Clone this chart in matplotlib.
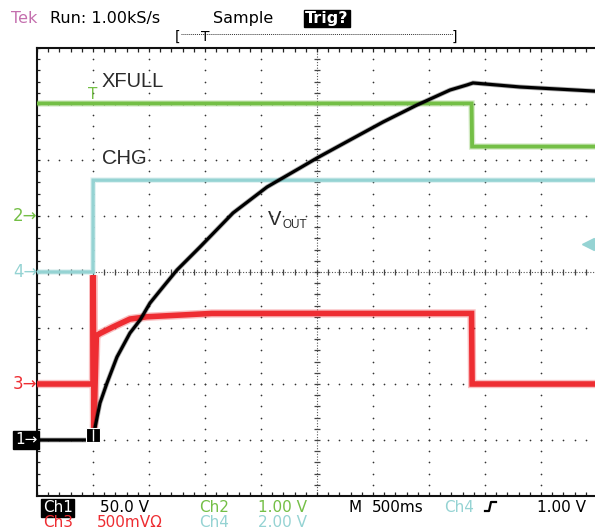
import numpy as np
import matplotlib.pyplot as plt
from matplotlib.lines import Line2D
from matplotlib.transforms import blended_transform_factory

W, H = 595, 531

# channel settings: volts per division, ground marker position (divisions from bottom)
ch1_scale, ch1_gnd = 50.0, 1.0
ch2_scale, ch2_gnd = 1.0, 5.0
ch3_scale, ch3_gnd = 0.5, 2.0
ch4_scale, ch4_gnd = 2.0, 4.0

# Ch1 - VOUT (V)
vout_t = [-0.5, 0.0, 0.01, 0.0625, 0.125, 0.214, 0.33, 0.42, 0.509, 0.625, 0.75,
          0.955, 1.25, 1.554, 1.848, 2.0, 2.295, 2.589, 2.893, 3.188, 3.339,
          3.393, 3.813, 4.464, 4.5]
vout_v = [0.0, 0.0, 7.1, 33.0, 50.9, 74.1, 95.5, 107.1, 122.3, 136.6, 151.8,
          172.3, 202.7, 225.9, 242.9, 251.8, 267.9, 283.9, 299.1, 312.5, 317.0,
          318.8, 315.2, 311.6, 311.4]

# Ch2 - XFULL (V)
xfull_t = [-0.5, 3.38, 3.385, 4.5]
xfull_v = [2.01, 2.01, 1.24, 1.24]

# Ch4 - CHG (V)
chg_t = [-0.5, 0.0, 0.001, 4.5]
chg_v = [0.0, 0.0, 3.28, 3.28]

# Ch3 - charge current (A)
ich_t = [-0.5, 0.0, 0.002, 0.009, 0.03, 0.06, 0.18, 0.33, 0.48, 0.77, 1.06, 3.38, 3.385, 4.5]
ich_v = [0.0, 0.0, 0.97, -0.39, 0.43, 0.45, 0.51, 0.58, 0.60, 0.615, 0.63, 0.63, 0.0, 0.0]

GREEN = '#74bf46'
CYAN = '#95d3d3'
RED = '#ee2d32'
PINK = '#c46fae'
LABEL = '#2b2b2b'
FONT = 'DejaVu Sans'


def fx(x):
    return x / W


def fy(y):
    return 1 - y / H


fig = plt.figure(figsize=(W / 100, H / 100), dpi=100)
ax = fig.add_axes([fx(37), fy(496), 558 / W, 448 / H])
ax.set_xlim(-0.5, -0.5 + 558 / 112)
ax.set_ylim(0, 8)
ax.set_xticks([])
ax.set_yticks([])
for s in ['top', 'left', 'bottom']:
    ax.spines[s].set_linewidth(1.5)
    ax.spines[s].set_color('#111111')
ax.spines['right'].set_visible(False)

# graticule: dotted grid (dots every 1/5 division)
t_major = [-0.5 + 0.5 * i for i in range(1, 10) if i != 5]
y_major = [j for j in range(1, 8) if j != 4]
t_minor = np.arange(-0.5, 4.55, 0.1)
y_minor = np.arange(0, 8.01, 0.2)
gx, gy = [], []
for t in t_major:
    gx += [t] * len(y_minor)
    gy += list(y_minor)
for y in y_major:
    gx += list(t_minor)
    gy += [y] * len(t_minor)
ax.scatter(gx, gy, s=1.5, color='#333333', linewidths=0, zorder=1)

# center axes with ticks
ax.axhline(4, color='#555555', lw=0.8, ls=(0, (1, 1.5)), zorder=1)
ax.axvline(2.0, color='#555555', lw=0.8, ls=(0, (1, 1.5)), zorder=1)
ax.plot(t_minor, [4] * len(t_minor), ls='none', marker='|', ms=5, mew=0.9, color='#444444', zorder=1)
ax.plot([2.0] * len(y_minor), y_minor, ls='none', marker='_', ms=5, mew=0.9, color='#444444', zorder=1)

# frame edge ticks
ax.plot(t_minor, [8] * len(t_minor), ls='none', marker='|', ms=6, mew=0.9, color='#222222', zorder=1)
ax.plot(t_minor, [0] * len(t_minor), ls='none', marker='|', ms=6, mew=0.9, color='#222222', zorder=1)
ax.plot([-0.5] * len(y_minor), y_minor, ls='none', marker='_', ms=5, mew=0.9, color='#222222', zorder=1)


def trace(t, v, scale, gnd, color, lw, halo, z):
    d = [gnd + x / scale for x in v]
    ax.plot(t, d, color=color, lw=lw + halo, alpha=0.3, solid_joinstyle='miter', zorder=z)
    ax.plot(t, d, color=color, lw=lw, solid_joinstyle='miter', zorder=z)


trace(chg_t, chg_v, ch4_scale, ch4_gnd, CYAN, 2.4, 1.6, 3)
trace(xfull_t, xfull_v, ch2_scale, ch2_gnd, GREEN, 2.8, 1.8, 4)
trace(ich_t, ich_v, ch3_scale, ch3_gnd, RED, 4.0, 2.0, 5)
trace(vout_t, vout_v, ch1_scale, ch1_gnd, 'black', 2.3, 1.2, 6)

# trigger markers
ax.text(0.0, ch2_gnd + xfull_v[0] / ch2_scale + 0.02, 'T', color=GREEN, fontsize=11,
        ha='center', va='bottom', family=FONT, zorder=7)
ax.plot(-0.004, ch1_gnd + 0.09, marker='s', ms=9.5, mfc='black', mec='white', mew=0.8, zorder=8)
ax.plot(-0.004, ch1_gnd + 0.09, marker='|', ms=8, mew=1.0, color='white', zorder=9)

trans = blended_transform_factory(ax.transAxes, ax.transData)
ax.plot(0.988, ch4_gnd + 1.0 / ch4_scale, marker='<', ms=8, color=CYAN, mec=CYAN,
        transform=trans, clip_on=False, zorder=7)

# ground markers at the left
gx0 = (13 - 37) / 558
ax.text(gx0, ch2_gnd, '2\u2192', color=GREEN, fontsize=12, ha='left', va='center', transform=trans, family=FONT)
ax.text(gx0, ch4_gnd, '4\u2192', color=CYAN, fontsize=12, ha='left', va='center', transform=trans, family=FONT)
ax.text(gx0, ch3_gnd, '3\u2192', color=RED, fontsize=12, ha='left', va='center', transform=trans, family=FONT)
ax.text(gx0 + 0.004, ch1_gnd, '1\u2192', color='white', fontsize=11, ha='left', va='center',
        transform=trans, family=FONT, bbox=dict(boxstyle='square,pad=0.12', fc='black', ec='black'))

# signal labels
ax.text(0.08, 7.30, 'XFULL', color=LABEL, fontsize=14.5, family='Liberation Sans', va='baseline')
ax.text(0.08, 5.93, 'CHG', color=LABEL, fontsize=14.5, family='Liberation Sans', va='baseline')
ax.text(1.5625, 4.84, 'V', color=LABEL, fontsize=14.5, family='Liberation Sans', va='baseline')
ax.text(1.69, 4.79, 'OUT', color=LABEL, fontsize=8.5, family='Liberation Sans', va='baseline')

# header
fs = 11.5
fig.text(fx(11), fy(23), 'Tek', color=PINK, fontsize=fs, family=FONT)
fig.text(fx(50), fy(23), 'Run: 1.00kS/s', color='black', fontsize=fs, family=FONT)
fig.text(fx(213), fy(23), 'Sample', color='black', fontsize=fs, family=FONT)
fig.text(fx(305), fy(23), 'Trig?', color='white', fontsize=fs, family=FONT, weight='bold',
         bbox=dict(boxstyle='square,pad=0.08', fc='black', ec='black'))
fig.text(fx(175), fy(41), '[', color='black', fontsize=10, family=FONT)
fig.text(fx(452), fy(41), ']', color='black', fontsize=10, family=FONT)
fig.add_artist(Line2D([fx(181), fx(453)], [fy(34), fy(34)], color='#333333', lw=0.7, ls=(0, (1, 1))))
fig.text(fx(205), fy(41), 'T', color='black', fontsize=10, family=FONT, ha='center')

# footer
fs = 11
r1, r2 = 512.5, 527
fig.text(fx(43), fy(r1), 'Ch1', color='white', fontsize=fs, family=FONT,
         bbox=dict(boxstyle='square,pad=0.1', fc='black', ec='black'))
fig.text(fx(100), fy(r1), '50.0 V', color='black', fontsize=fs, family=FONT)
fig.text(fx(199), fy(r1), 'Ch2', color=GREEN, fontsize=fs, family=FONT)
fig.text(fx(258), fy(r1), '1.00 V', color=GREEN, fontsize=fs, family=FONT)
fig.text(fx(348), fy(r1), 'M', color='black', fontsize=fs, family=FONT)
fig.text(fx(372), fy(r1), '500ms', color='black', fontsize=fs, family=FONT)
fig.text(fx(444), fy(r1), 'Ch4', color=CYAN, fontsize=fs, family=FONT)
fig.add_artist(Line2D([fx(485), fx(489), fx(491), fx(496)], [fy(511), fy(511), fy(502), fy(502)],
                      color='black', lw=1.6))
fig.text(fx(537), fy(r1), '1.00 V', color='black', fontsize=fs, family=FONT)
fig.text(fx(43), fy(r2), 'Ch3', color=RED, fontsize=fs, family=FONT)
fig.text(fx(97), fy(r2), '500mV\u03a9', color=RED, fontsize=fs, family=FONT)
fig.text(fx(199), fy(r2), 'Ch4', color=CYAN, fontsize=fs, family=FONT)
fig.text(fx(258), fy(r2), '2.00 V', color=CYAN, fontsize=fs, family=FONT)

fig.savefig('out.png', dpi=100)
